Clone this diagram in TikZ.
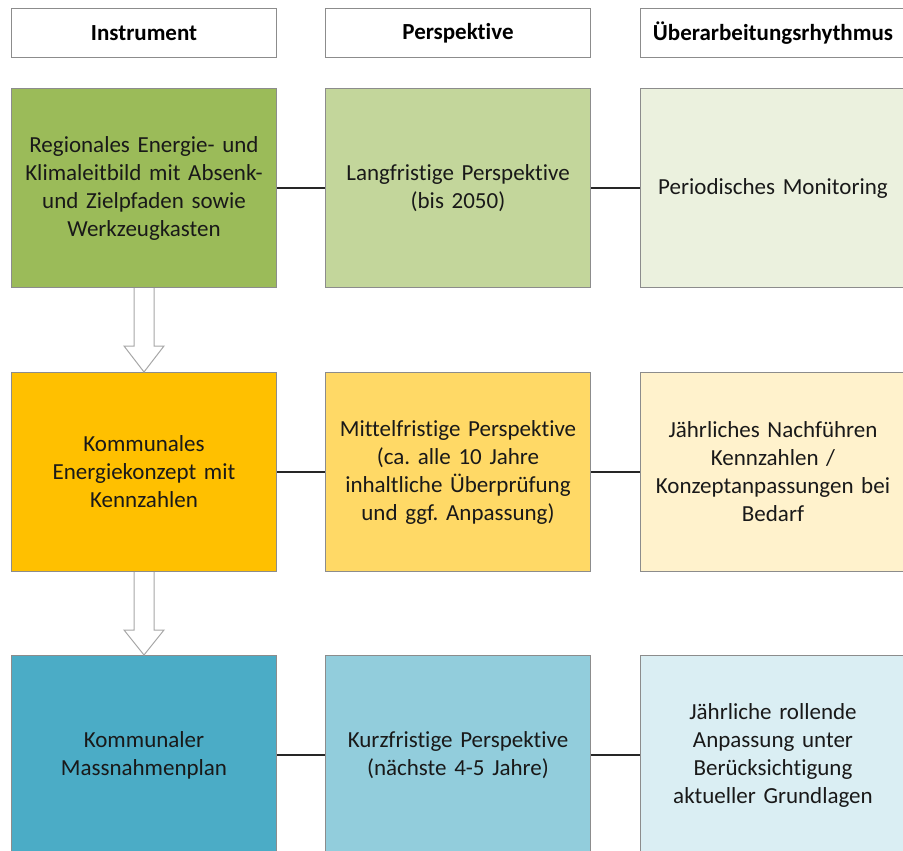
\documentclass[tikz,border=0pt]{standalone}
\usepackage{fontspec}
\setmainfont{Carlito}[RawFeature={-liga;-clig;-dlig}]
\usetikzlibrary{calc}
\frenchspacing
\definecolor{gA}{HTML}{9BBB59}
\definecolor{gB}{HTML}{C3D69B}
\definecolor{gC}{HTML}{EBF1DE}
\definecolor{yA}{HTML}{FFC000}
\definecolor{yB}{HTML}{FFD966}
\definecolor{yC}{HTML}{FFF2CC}
\definecolor{bA}{HTML}{4BACC6}
\definecolor{bB}{HTML}{92CDDC}
\definecolor{bC}{HTML}{DAEEF3}
\definecolor{frame}{HTML}{8C8C8C}
\tikzset{
  cell/.style={draw=frame, line width=1pt, minimum width=265pt, minimum height=199pt,
    text width=250pt, align=center, inner sep=0pt, anchor=north west,
    font=\fontsize{23}{28}\selectfont, text=black!90},
  head/.style={draw=frame, line width=1pt, fill=white, minimum width=265pt, minimum height=49pt,
    align=center, inner sep=0pt, anchor=north west, font=\fontsize{23}{28}\selectfont\bfseries},
  link/.style={line width=1.2pt, black!85},
  blockarrow/.style={draw=gray!70, line width=1pt, fill=white, line join=miter}
}
\begin{document}
\begin{tikzpicture}[x=1pt,y=-1pt]
\useasboundingbox (0,0) rectangle (903,851);
\begin{scope}
\clip (0,0) rectangle (903,851);
% headers
\node[head] (h1) at (11,8) {Instrument};
\node[head] (h2) at (325,8) {Perspektive};
\node[head] (h3) at (640,8) {Überarbeitungsrhythmus};
% row 1
\node[cell, fill=gA] (a1) at (11,88) {Regionales Energie- und\\Klimaleitbild mit Absenk-\\und Zielpfaden sowie\\Werkzeugkasten};
\node[cell, fill=gB] (a2) at (325,88) {Langfristige Perspektive\\(bis 2050)};
\node[cell, fill=gC] (a3) at (640,88) {Periodisches Monitoring};
% row 2
\node[cell, fill=yA] (b1) at (11,372) {Kommunales\\Energiekonzept mit\\Kennzahlen};
\node[cell, fill=yB] (b2) at (325,372) {Mittelfristige Perspektive\\(ca. alle 10 Jahre\\inhaltliche Überprüfung\\und ggf. Anpassung)};
\node[cell, fill=yC] (b3) at (640,372) {Jährliches Nachführen\\Kennzahlen /\\Konzeptanpassungen bei\\Bedarf};
% row 3
\node[cell, fill=bA] (c1) at (11,655) {Kommunaler\\Massnahmenplan};
\node[cell, fill=bB] (c2) at (325,655) {Kurzfristige Perspektive\\(nächste 4-5 Jahre)};
\node[cell, fill=bC] (c3) at (640,655) {Jährliche rollende\\Anpassung unter\\Berücksichtigung\\aktueller Grundlagen};
\end{scope}
% connectors
\draw[link] (a1.east) -- (a2.west);
\draw[link] (a2.east) -- (a3.west);
\draw[link] (b1.east) -- (b2.west);
\draw[link] (b2.east) -- (b3.west);
\draw[link] (c1.east) -- (c2.west);
\draw[link] (c2.east) -- (c3.west);
% block arrows
\draw[blockarrow] ($(a1.south)+(-10,0)$) -- ($(a1.south)+(-10,58)$) -- ($(a1.south)+(-20,58)$)
  -- (b1.north) -- ($(a1.south)+(20,58)$) -- ($(a1.south)+(10,58)$) -- ($(a1.south)+(10,0)$);
\draw[blockarrow] ($(b1.south)+(-10,0)$) -- ($(b1.south)+(-10,58)$) -- ($(b1.south)+(-20,58)$)
  -- (c1.north) -- ($(b1.south)+(20,58)$) -- ($(b1.south)+(10,58)$) -- ($(b1.south)+(10,0)$);
\end{tikzpicture}
\end{document}
